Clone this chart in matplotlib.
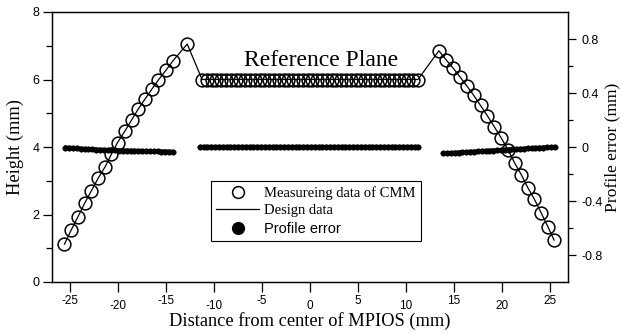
import matplotlib
matplotlib.use("Agg")
import matplotlib.pyplot as plt
from matplotlib.lines import Line2D

plt.rcParams['axes.unicode_minus'] = False

# ---- CMM measured data (left axis, mm) ----
cmm_x = [-25.6, -24.9, -24.2, -23.5, -22.8, -22.1, -21.35, -20.7, -20.07, -19.3, -18.6, -17.9, -17.2, -16.5, -15.8, -15.0, -14.3,
         -12.8,
         -11.25, -10.75, -10.25, -9.75, -9.25, -8.75, -8.25, -7.75, -7.25, -6.75, -6.25, -5.75, -5.25, -4.75, -4.25, -3.75,
         -3.25, -2.75, -2.25, -1.75, -1.25, -0.75, -0.25, 0.25, 0.75, 1.25, 1.75, 2.25, 2.75, 3.25, 3.75, 4.25, 4.75,
         5.25, 5.75, 6.25, 6.75, 7.25, 7.75, 8.25, 8.75, 9.25, 9.75, 10.25, 10.75, 11.25,
         13.44,
         14.2, 14.92, 15.63, 16.35, 17.07, 17.78, 18.5, 19.22, 19.93, 20.65, 21.35, 22.05, 22.7, 23.4, 24.1, 24.8, 25.45]
cmm_y = [1.12, 1.54, 1.93, 2.33, 2.70, 3.07, 3.42, 3.79, 4.13, 4.47, 4.80, 5.13, 5.42, 5.71, 5.99, 6.28, 6.55,
         7.05,
         6.0, 6.0, 6.0, 6.0, 6.0, 6.0, 6.0, 6.0, 6.0, 6.0, 6.0, 6.0, 6.0, 6.0, 6.0, 6.0,
         6.0, 6.0, 6.0, 6.0, 6.0, 6.0, 6.0, 6.0, 6.0, 6.0, 6.0, 6.0, 6.0, 6.0, 6.0, 6.0, 6.0,
         6.0, 6.0, 6.0, 6.0, 6.0, 6.0, 6.0, 6.0, 6.0, 6.0, 6.0, 6.0, 6.0,
         6.85,
         6.58, 6.34, 6.08, 5.81, 5.53, 5.23, 4.92, 4.60, 4.27, 3.92, 3.52, 3.17, 2.80, 2.45, 2.05, 1.64, 1.24]

# ---- Profile error (right axis, mm) ----
err_left_x = [-25.5, -25.1, -24.7, -24.3, -23.9, -23.5, -23.1, -22.7, -22.3, -21.9, -21.5, -21.1, -20.7, -20.3, -19.9,
              -19.5, -19.1, -18.7, -18.3, -17.9, -17.5, -17.1, -16.7, -16.3, -15.9, -15.5, -15.1, -14.7, -14.3]
err_left_y = [-0.004, -0.007, -0.009, -0.011, -0.013, -0.015, -0.017, -0.018, -0.019, -0.021, -0.022, -0.023, -0.024,
              -0.025, -0.026, -0.027, -0.027, -0.028, -0.029, -0.030, -0.030, -0.031, -0.032, -0.032, -0.033, -0.034,
              -0.034, -0.035, -0.036]
err_mid_x = [-11.5, -11.1, -10.7, -10.3, -9.9, -9.5, -9.1, -8.7, -8.3, -7.9, -7.5, -7.1, -6.7, -6.3, -5.9, -5.5, -5.1,
             -4.7, -4.3, -3.9, -3.5, -3.1, -2.7, -2.3, -1.9, -1.5, -1.1, -0.7, -0.3, 0.1, 0.5, 0.9, 1.3, 1.7, 2.1, 2.5,
             2.9, 3.3, 3.7, 4.1, 4.5, 4.9, 5.3, 5.7, 6.1, 6.5, 6.9, 7.3, 7.7, 8.1, 8.5, 8.9, 9.3, 9.7, 10.1, 10.5, 10.9, 11.3]
err_mid_y = [0.0, 0.0, 0.0, 0.0, 0.0, 0.0, 0.0, 0.0, 0.0, 0.0, 0.0, 0.0, 0.0, 0.0, 0.0, 0.0, 0.0, 0.0, 0.0, 0.0,
             0.0, 0.0, 0.0, 0.0, 0.0, 0.0, 0.0, 0.0, 0.0, 0.0, 0.0, 0.0, 0.0, 0.0, 0.0, 0.0, 0.0, 0.0, 0.0, 0.0,
             0.0, 0.0, 0.0, 0.0, 0.0, 0.0, 0.0, 0.0, 0.0, 0.0, 0.0, 0.0, 0.0, 0.0, 0.0, 0.0, 0.0, 0.0]
err_right_x = [13.9, 14.3, 14.7, 15.1, 15.5, 15.9, 16.3, 16.7, 17.1, 17.5, 17.9, 18.3, 18.7, 19.1, 19.5, 19.9, 20.3,
               20.7, 21.1, 21.5, 21.9, 22.3, 22.7, 23.1, 23.5, 23.9, 24.3, 24.7, 25.1, 25.5]
err_right_y = [-0.048, -0.046, -0.045, -0.043, -0.041, -0.040, -0.038, -0.036, -0.035, -0.033, -0.031, -0.030, -0.028,
               -0.026, -0.025, -0.023, -0.021, -0.020, -0.018, -0.016, -0.015, -0.013, -0.011, -0.010, -0.008, -0.006,
               -0.005, -0.003, -0.002, 0.000]

x_ticks = [-25, -20, -15, -10, -5, 0, 5, 10, 15, 20, 25]
x_ticklabels = ['-25', '-20', '-15', '-10', '-5', '0', '5', '10', '15', '20', '25']
left_ticks = [0, 2, 4, 6, 8]
left_ticklabels = ['0', '2', '4', '6', '8']
right_ticks = [-0.8, -0.4, 0, 0.4, 0.8]
right_ticklabels = ['-0.8', '-0.4', '0', '0.4', '0.8']

serif = 'Liberation Serif'
sans = 'Liberation Sans'

fig = plt.figure(figsize=(6.22, 3.33), dpi=100)
ax = fig.add_axes([52/622, 1-282/333, (568-52)/622, (282-12)/333])
ax2 = ax.twinx()

# design line and measured circles
ax.plot(cmm_x, cmm_y, '-', color='black', lw=0.9, zorder=3)
ax.plot(cmm_x, cmm_y, 'o', ms=9.2, mfc='none', mec='black', mew=1.1, zorder=4)

# profile error dots (dense, forming a thick dotted band)
for ex, ey in [(err_left_x, err_left_y), (err_mid_x, err_mid_y), (err_right_x, err_right_y)]:
    ax2.plot(ex, ey, '-', color='black', lw=3.2, solid_capstyle='round', zorder=3)
    ax2.plot(ex, ey, 'o', ms=4.0, color='black', mew=0.3, zorder=3)

ax.set_xlim(-26.9, 26.9)
ax.set_ylim(0, 8)
ax2.set_ylim(-1, 1)

ax.set_xticks(x_ticks)
ax.set_xticklabels(x_ticklabels, family=sans, fontsize=8.5)
ax.set_yticks(left_ticks)
ax.set_yticklabels(left_ticklabels, family=sans, fontsize=9)
ax.set_yticks([1, 3, 5, 7], minor=True)
ax2.set_yticks(right_ticks)
ax2.set_yticklabels(right_ticklabels, family=sans, fontsize=9)
ax2.set_yticks([-0.6, -0.2, 0.2, 0.6], minor=True)

ax.tick_params(axis='x', direction='out', length=7, width=0.9, top=False)
ax.tick_params(axis='y', which='major', direction='out', length=6.5, width=0.9, pad=2.5)
ax.tick_params(axis='y', which='minor', direction='out', length=4, width=0.9)
ax2.tick_params(axis='y', which='major', direction='out', length=5.5, width=0.9, pad=4)
ax2.tick_params(axis='y', which='minor', direction='out', length=3.6, width=0.9)

for i, t in enumerate(ax.xaxis.get_major_ticks()):
    t.set_pad(2.2 if i % 2 == 0 else 5.8)

for a in (ax, ax2):
    for s in a.spines.values():
        s.set_linewidth(0.9)

ax.set_xlabel('Distance from center of MPIOS (mm)', family=serif, fontsize=13.2, labelpad=0)
ax.set_ylabel('Height (mm)', family=serif, fontsize=13.2, labelpad=6)
ax2.set_ylabel('Profile error (mm)', family=serif, fontsize=12.6, labelpad=1)

ax.text(1.2, 6.41, 'Reference Plane', family=serif, fontsize=17, ha='center', va='baseline')

handles = [
    Line2D([], [], ls='none', marker='o', ms=8.5, mfc='none', mec='black', mew=1.1),
    Line2D([], [], ls='-', color='black', lw=0.9),
    Line2D([], [], ls='none', marker='o', ms=8.5, color='black'),
]
labels = ['Measureing data of CMM', 'Design data', 'Profile error']
leg = ax.legend(handles, labels, loc='upper left', bbox_to_anchor=(0.308, 0.374), borderaxespad=0,
                handlelength=2.95, handletextpad=0.35, labelspacing=0.3, borderpad=0.35,
                fancybox=False, framealpha=1, edgecolor='black', prop={'family': serif, 'size': 10.5})
leg.get_frame().set_linewidth(0.8)
leg.get_texts()[2].set_family(sans)
leg.set_zorder(10)

fig.savefig('out.png', dpi=100)
